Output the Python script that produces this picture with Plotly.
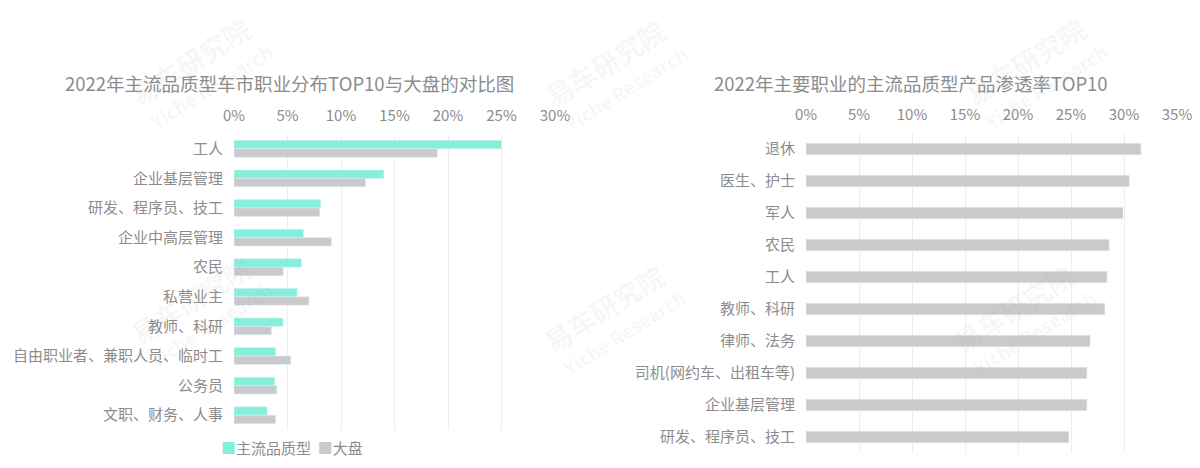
import plotly.graph_objects as go

# Left chart data
left_categories = ["工人", "企业基层管理", "研发、程序员、技工", "企业中高层管理", "农民",
                   "私营业主", "教师、科研", "自由职业者、兼职人员、临时工", "公务员", "文职、财务、人事"]
left_mainstream = [0.250, 0.140, 0.081, 0.065, 0.063, 0.059, 0.046, 0.039, 0.038, 0.031]
left_market = [0.190, 0.123, 0.080, 0.091, 0.046, 0.070, 0.035, 0.053, 0.040, 0.039]
left_series = ["主流品质型", "大盘"]

# Right chart data
right_categories = ["退休", "医生、护士", "军人", "农民", "工人", "教师、科研",
                    "律师、法务", "司机(网约车、出租车等)", "企业基层管理", "研发、程序员、技工"]
right_values = [0.316, 0.305, 0.299, 0.286, 0.284, 0.282, 0.268, 0.265, 0.265, 0.248]

left_ticks = [0, 0.05, 0.10, 0.15, 0.20, 0.25, 0.30]
right_ticks = [0, 0.05, 0.10, 0.15, 0.20, 0.25, 0.30, 0.35]

left_title = "2022年主流品质型车市职业分布TOP10与大盘的对比图"
right_title = "2022年主要职业的主流品质型产品渗透率TOP10"

TEAL = "#84F0DC"
GRAY = "#C9CACC"
TXT = "#8c8c8c"
FONT = "Noto Sans CJK SC"

# page body has an 8px margin: size figure to fit and map page pixels to paper coords
OFF = 8
W, H = 1200 - OFF, 468 - OFF


def px(x):
    return (x - OFF) / W


def py(y):
    return 1 - (y - OFF) / H


fig = go.Figure()
fig.add_trace(go.Bar(y=left_categories, x=left_mainstream, orientation="h", name=left_series[0],
                     marker_color=TEAL, xaxis="x", yaxis="y", showlegend=False))
fig.add_trace(go.Bar(y=left_categories, x=left_market, orientation="h", name=left_series[1],
                     marker_color=GRAY, xaxis="x", yaxis="y", showlegend=False))
fig.add_trace(go.Bar(y=right_categories, x=right_values, orientation="h", name="渗透率",
                     marker_color=GRAY, xaxis="x2", yaxis="y2", showlegend=False,
                     width=0.36))

axis_common = dict(showgrid=True, gridcolor="#EEEEEE", gridwidth=1, zeroline=False,
                   showline=False, ticks="", tickfont=dict(size=15, color=TXT),
                   tickformat=".0%", side="top", automargin=False, ticklabelstandoff=9)
yaxis_common = dict(autorange="reversed", showgrid=False, ticks="", showline=False,
                    zeroline=False, tickfont=dict(size=15, color=TXT),
                    ticklabelstandoff=10, automargin=False)

# watermarks (faint, rotated)
wm_centers = [(190, 62), (605, 64), (1025, 62), (190, 300), (603, 308), (1013, 308)]
annotations = [
    dict(text=left_title, x=px(289), y=py(83), xref="paper", yref="paper",
         showarrow=False, xanchor="center", yanchor="middle", font=dict(size=18.5, color=TXT)),
    dict(text=right_title, x=px(911), y=py(83), xref="paper", yref="paper",
         showarrow=False, xanchor="center", yanchor="middle", font=dict(size=18.5, color=TXT)),
    dict(text=f"<span style='color:{TEAL}'>■</span>{left_series[0]}  "
              f"<span style='color:{GRAY}'>■</span>{left_series[1]}",
         x=px(219), y=py(447), xref="paper", yref="paper", showarrow=False,
         xanchor="left", yanchor="middle", font=dict(size=15, color=TXT)),
]
for cx, cy in wm_centers:
    annotations.append(dict(text="<b>易车研究院</b>", x=px(cx), y=py(cy), xref="paper", yref="paper",
                            showarrow=False, textangle=-32, xanchor="center", yanchor="middle",
                            font=dict(size=27, color="rgba(160,160,160,0.09)")))
    annotations.append(dict(text="<b>Yiche Research</b>", x=px(cx + 20), y=py(cy + 24),
                            xref="paper", yref="paper", showarrow=False, textangle=-32,
                            xanchor="center", yanchor="middle",
                            font=dict(size=19, color="rgba(160,160,160,0.09)")))

fig.update_layout(
    width=W, height=H,
    margin=dict(l=0, r=0, t=0, b=0),
    paper_bgcolor="white", plot_bgcolor="white",
    font=dict(family=FONT, color=TXT, size=14),
    barmode="group", bargap=0.43, bargroupgap=0,
    showlegend=False,
    xaxis=dict(domain=[px(234), px(555)], range=[0, 0.30], tickvals=left_ticks,
               anchor="y", **axis_common),
    yaxis=dict(domain=[py(430), py(134)], anchor="x", **yaxis_common),
    xaxis2=dict(domain=[px(806), px(1177)], range=[0, 0.35], tickvals=right_ticks,
                anchor="y2", **axis_common),
    yaxis2=dict(domain=[py(453), py(133)], anchor="x2", **yaxis_common),
    annotations=annotations,
)

fig.write_html("out.html")
